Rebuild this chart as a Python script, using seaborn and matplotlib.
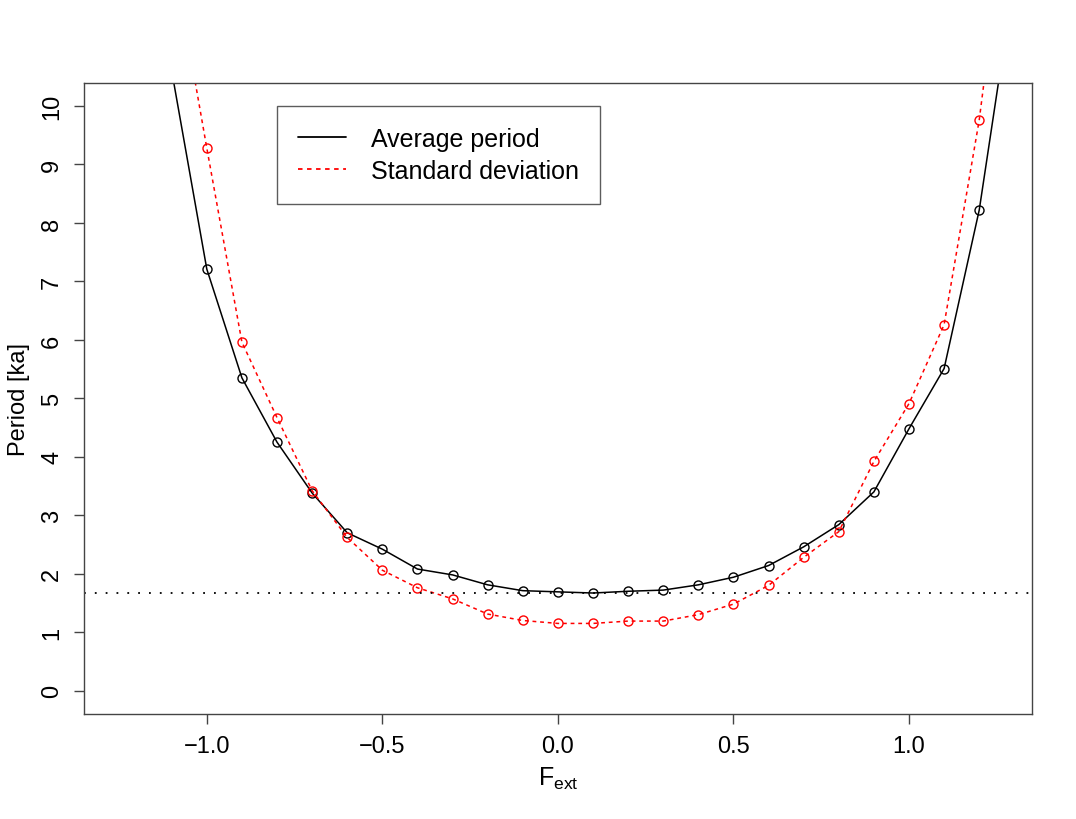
import numpy as np
import pandas as pd
import matplotlib
matplotlib.use("Agg")
import matplotlib.pyplot as plt
import seaborn as sns
from matplotlib.lines import Line2D

# forcing values
f_ext = [-1.1, -1.0, -0.9, -0.8, -0.7, -0.6, -0.5, -0.4, -0.3, -0.2, -0.1, 0.0,
         0.1, 0.2, 0.3, 0.4, 0.5, 0.6, 0.7, 0.8, 0.9, 1.0, 1.1, 1.2, 1.3]

avg_period = [10.6, 7.21, 5.35, 4.25, 3.38, 2.70, 2.42, 2.08, 1.98, 1.81, 1.71, 1.69,
              1.67, 1.70, 1.72, 1.81, 1.94, 2.14, 2.46, 2.84, 3.40, 4.48, 5.51, 8.22, 12.2]

std_period = [12.7, 9.28, 5.96, 4.67, 3.42, 2.62, 2.06, 1.76, 1.57, 1.31, 1.20, 1.15,
              1.15, 1.19, 1.19, 1.30, 1.48, 1.80, 2.28, 2.72, 3.92, 4.91, 6.26, 9.76, 14.5]

ref_level = 1.67

df = pd.DataFrame({"F": f_ext, "avg": avg_period, "sd": std_period})

sns.set_style("ticks")
plt.rcParams["font.family"] = ["Liberation Sans", "DejaVu Sans"]
plt.rcParams["mathtext.fontset"] = "custom"
plt.rcParams["mathtext.rm"] = "Liberation Sans"
plt.rcParams["mathtext.it"] = "Liberation Sans"
plt.rcParams["text.color"] = "black"
plt.rcParams["axes.labelcolor"] = "black"
plt.rcParams["xtick.color"] = "black"
plt.rcParams["ytick.color"] = "black"

fig = plt.figure(figsize=(10.76, 8.2), dpi=100)
ax = fig.add_axes([0.078, 0.128, 0.881, 0.770])

sns.lineplot(data=df, x="F", y="avg", ax=ax, color="black", lw=1.1,
             marker="o", markersize=6.5, markerfacecolor="none",
             markeredgecolor="black", markeredgewidth=1.0)
sns.lineplot(data=df, x="F", y="sd", ax=ax, color="red", lw=1.1, linestyle=(0, (2.5, 2.5)),
             marker="o", markersize=6.5, markerfacecolor="none",
             markeredgecolor="red", markeredgewidth=1.0)

ax.axhline(ref_level, color="black", lw=1.3, linestyle=(0, (1, 5)))

ax.set_xlim(-1.35, 1.35)
ax.set_ylim(-0.4, 10.4)
ax.set_xticks([-1.0, -0.5, 0.0, 0.5, 1.0])
ax.set_xticklabels(["\u22121.0", "\u22120.5", "0.0", "0.5", "1.0"])
ax.set_yticks(range(0, 11))
ax.set_yticklabels([str(i) for i in range(0, 11)], rotation=90, va="center")
ax.tick_params(axis="both", labelsize=17, length=7, width=1, direction="out",
               color="#444444", labelcolor="black")
ax.tick_params(axis="x", pad=8)
ax.tick_params(axis="y", pad=8)

for s in ax.spines.values():
    s.set_visible(True)
    s.set_color("#444444")
    s.set_linewidth(1.0)

ax.set_xlabel(r"$\mathregular{F_{ext}}$", fontsize=18, labelpad=6)
ax.set_ylabel("Period [ka]", fontsize=17, labelpad=8)

handles = [Line2D([], [], color="black", lw=1.3),
           Line2D([], [], color="red", lw=1.3, linestyle=(0, (2.5, 2.5)))]
leg = ax.legend(handles, ["Average period", "Standard deviation"],
                loc="upper left", bbox_to_anchor=(0.2036, 0.9635),
                borderaxespad=0, fontsize=18, frameon=True, fancybox=False,
                edgecolor="#333333", handlelength=1.9, handletextpad=1.0,
                borderpad=0.85, labelspacing=0.32)
leg.get_frame().set_linewidth(1.0)

fig.savefig("out.png", dpi=100, facecolor="white")
